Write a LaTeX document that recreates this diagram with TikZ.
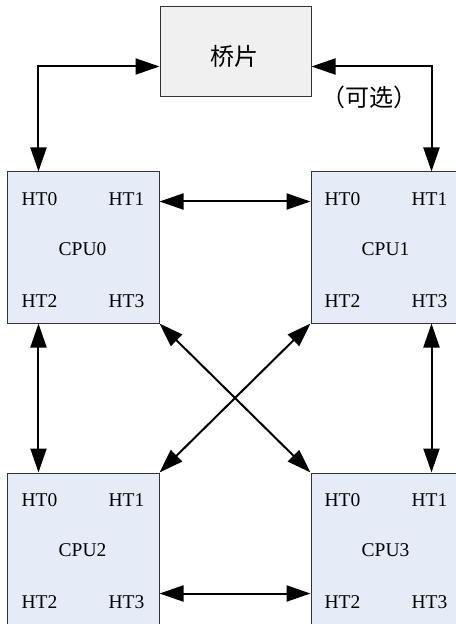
\documentclass[tikz,border=0pt]{standalone}
\usepackage{fontspec}
\setmainfont{Liberation Serif}
\newfontfamily\cjk{Noto Sans CJK SC}
\usetikzlibrary{arrows.meta,calc}
\definecolor{cpufill}{HTML}{E6ECF7}
\definecolor{brfill}{HTML}{F0F0F0}
\definecolor{boxline}{HTML}{333333}
\tikzset{
  cpubox/.style={draw=boxline,line width=1bp,fill=cpufill,minimum width=151bp,minimum height=151bp,inner sep=0pt},
  brbox/.style={draw=boxline,line width=1bp,fill=brfill,minimum width=151bp,minimum height=90bp,inner sep=0pt},
  lbl/.style={inner sep=0pt,font=\fontsize{19.5bp}{23bp}\selectfont},
  cjklbl/.style={inner sep=0pt,font=\fontsize{24bp}{28bp}\selectfont\cjk},
  link/.style={line width=2bp,{Triangle[length=24bp,width=16bp]}-{Triangle[length=24bp,width=16bp]}}
}
\begin{document}
\begin{tikzpicture}[x=1bp,y=-1bp]
\useasboundingbox (0,0) rectangle (456,624);
% boxes
\node[brbox] (br) at (235.5,52) {};
\node[cjklbl] (brt) at (234,56) {桥片};
\node[cpubox] (c0) at (83.5,247.5) {};
\node[cpubox] (c1) at (386.5,247.5) {};
\node[cpubox] (c2) at (83.5,548.5) {};
\node[cpubox] (c3) at (386.5,548.5) {};
% labels in CPU boxes
\foreach \c/\n in {c0/CPU0,c1/CPU1,c2/CPU2,c3/CPU3}{
  \node[lbl] (\c-ht0) at ($(\c.north west)+(32,28)$) {HT0};
  \node[lbl] (\c-ht1) at ($(\c.north west)+(119,28)$) {HT1};
  \node[lbl] (\c-ht2) at ($(\c.north west)+(32,130)$) {HT2};
  \node[lbl] (\c-ht3) at ($(\c.north west)+(119,130)$) {HT3};
  \node[lbl] (\c-name) at ($(\c.north west)+(75,78)$) {\n};
}
% anchor points on box borders
\coordinate (bw) at ($(br.north west)+(0,60)$);
\coordinate (be) at ($(br.north east)+(0,60)$);
\coordinate (c0n) at ($(c0.north west)+(31,0)$);
\coordinate (c1n) at ($(c1.north west)+(121,0)$);
\coordinate (c0e) at ($(c0.north east)+(0,30)$);
\coordinate (c1w) at ($(c1.north west)+(0,30)$);
\coordinate (c0s) at ($(c0.south west)+(31,0)$);
\coordinate (c2n) at ($(c2.north west)+(31,0)$);
\coordinate (c1s) at ($(c1.south west)+(121,0)$);
\coordinate (c3n) at ($(c3.north west)+(121,0)$);
\coordinate (c2e) at ($(c2.north east)+(0,121)$);
\coordinate (c3w) at ($(c3.north west)+(0,121)$);
% connectors
\draw[link] (bw) -| (c0n);
\draw[link] (be) -| (c1n);
\node[cjklbl] (opt) at (369,97) {（可选）};
\draw[link] (c0e) -- (c1w);
\draw[link] (c0s) -- (c2n);
\draw[link] (c1s) -- (c3n);
\draw[link] (c0.south east) -- (c3.north west);
\draw[link] (c1.south west) -- (c2.north east);
\draw[link] (c2e) -- (c3w);
\end{tikzpicture}
\end{document}
